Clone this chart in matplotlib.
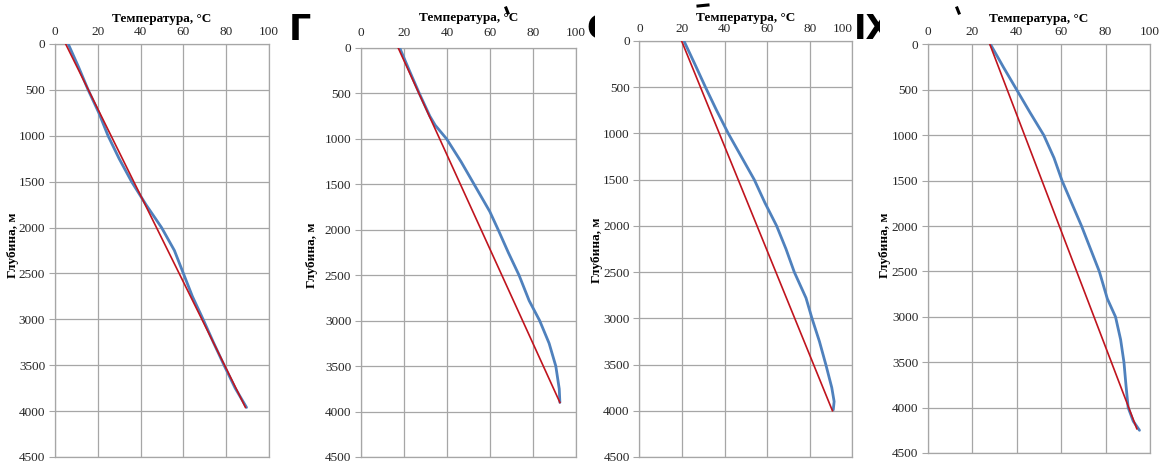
import matplotlib
matplotlib.use("Agg")
import matplotlib.pyplot as plt
from matplotlib.lines import Line2D
from matplotlib.transforms import Bbox

# depth profiles: measured (blue) and linear trend (red)
depth_1 = [0, 250, 500, 750, 1000, 1250, 1500, 1750, 2000, 2250, 2500, 2750, 3000, 3250, 3500, 3750, 3960]
temp_1 = [6.2, 11, 15.5, 20.5, 24.8, 30, 35.8, 42.5, 49.8, 55.8, 60, 64.2, 69.2, 74, 79, 84.2, 89.5]
trend_depth_1 = [0, 3960]
trend_temp_1 = [5.0, 89.0]

depth_2 = [0, 250, 500, 750, 850, 1000, 1250, 1500, 1800, 2000, 2250, 2500, 2780, 3000, 3250, 3500, 3750, 3900]
temp_2 = [18, 22.5, 27.1, 32, 34.5, 39.8, 46.5, 52.6, 59.9, 63.8, 68.5, 73.5, 78.2, 83.1, 87.5, 90.6, 92.2, 92.5]
trend_depth_2 = [0, 3900]
trend_temp_2 = [17.3, 92.5]

depth_3 = [0, 250, 500, 750, 1000, 1250, 1500, 1750, 2000, 2250, 2500, 2780, 3000, 3250, 3500, 3750, 3900, 3990]
temp_3 = [20.9, 26, 31, 36.2, 41.7, 47.8, 53.9, 58.9, 64.4, 68.8, 72.7, 78.2, 81, 84.5, 87.5, 90.3, 91.4, 91.0]
trend_depth_3 = [0, 4000]
trend_temp_3 = [19.8, 90.6]

depth_4 = [0, 250, 500, 750, 1000, 1250, 1500, 1750, 2000, 2250, 2500, 2800, 3000, 3250, 3500, 3750, 4000, 4150, 4250]
temp_4 = [28.2, 34, 40, 46, 52.2, 56.8, 60.4, 64.8, 69.2, 73.2, 77.2, 80.8, 84.5, 86.8, 88.3, 89.2, 90.2, 92.5, 95.3]
trend_depth_4 = [0, 4233]
trend_temp_4 = [27.9, 94.1]

x_ticks = [0, 20, 40, 60, 80, 100]
y_ticks = [0, 500, 1000, 1500, 2000, 2500, 3000, 3500, 4000, 4500]
x_title = "Температура, °С"
y_title = "Глубина, м"

profiles = [
    (depth_1, temp_1, trend_depth_1, trend_temp_1),
    (depth_2, temp_2, trend_depth_2, trend_temp_2),
    (depth_3, temp_3, trend_depth_3, trend_temp_3),
    (depth_4, temp_4, trend_depth_4, trend_temp_4),
]

# axes boxes [left, bottom, width, height] in figure fraction
boxes = [
    [0.0473, 0.0130, 0.1842, 0.8920],
    [0.3107, 0.0130, 0.1850, 0.8834],
    [0.5503, 0.0130, 0.1833, 0.8985],
    [0.7986, 0.0216, 0.1910, 0.8823],
]
# title y (axes frac), ylabel position (axes frac)
title_y = [1.060, 1.074, 1.055, 1.063]
ylab_pos = [(-0.195, 0.513), (-0.228, 0.494), (-0.20, 0.498), (-0.194, 0.509)]
tick_pad = [4.0, 6.5, 4.5, 5.0]

plt.rcParams['font.family'] = ['Liberation Serif', 'DejaVu Serif']
GRID = '#a6a6a6'
BLUE = '#4f81bd'
RED = '#c0141e'

fig = plt.figure(figsize=(11.62, 4.63), dpi=100)

# leftover fragments of a caption hidden behind the charts
fig.text(289 / 1162, 1 - 40 / 463, "Г", fontsize=25, fontweight='bold',
         family='DejaVu Sans', ha='left', va='baseline', zorder=-2)
t2 = fig.text(586 / 1162, 1 - 39 / 463, "Є", fontsize=24, fontweight='bold',
              family='DejaVu Sans', ha='left', va='baseline', zorder=-2)
t2.set_clip_box(Bbox.from_extents(587, 0, 595, 463))
t3 = fig.text(854 / 1162, 1 - 39 / 463, "ӀХ", fontsize=24, fontweight='bold',
              family='DejaVu Sans', ha='left', va='baseline', zorder=-2)
t3.set_clip_box(Bbox.from_extents(854, 0, 880, 463))
for xs, ys in [((506, 508), (8, 13)), ((698, 708), (6, 5)), ((957, 959), (8, 13))]:
    fig.add_artist(Line2D([x / 1162 for x in xs], [1 - y / 463 for y in ys],
                          color='black', lw=2.2, zorder=-2))

for i, (d, t, td, tt) in enumerate(profiles):
    ax = fig.add_axes(boxes[i])
    ax.plot(t, d, color=BLUE, lw=2.0, solid_capstyle='round', zorder=3)
    ax.plot(tt, td, color=RED, lw=1.2, zorder=4)

    ax.set_xlim(0, 100)
    ax.set_ylim(4500, 0)
    ax.set_xticks(x_ticks)
    ax.set_yticks(y_ticks)
    ax.xaxis.tick_top()
    ax.tick_params(axis='x', length=0, pad=tick_pad[i], labelsize=9.5, colors='#262626')
    ax.tick_params(axis='y', length=4, width=0.8, color=GRID, pad=3, labelsize=9.5,
                   labelcolor='#262626')
    ax.grid(True, color=GRID, lw=0.9)
    ax.set_axisbelow(True)
    for s in ax.spines.values():
        s.set_color(GRID)
        s.set_linewidth(0.9)
    if i == 2:
        # last label sits inside the panel here
        ax.get_xticklabels()[-1].set_horizontalalignment('right')

    ax.text(0.5, title_y[i], x_title, transform=ax.transAxes, ha='center', va='center',
            fontsize=9.5, fontweight='bold')
    ax.text(ylab_pos[i][0], ylab_pos[i][1], y_title, transform=ax.transAxes, rotation=90,
            ha='center', va='center', fontsize=9.5, fontweight='bold')

fig.savefig("out.png", dpi=100)
